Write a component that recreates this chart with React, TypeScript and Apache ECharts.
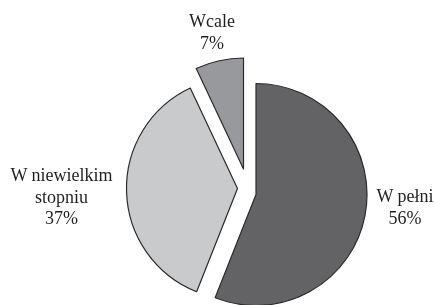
import React, { useEffect, useRef } from "react";
import * as echarts from "echarts";

const categories = ["W pełni", "W niewielkim\nstopniu", "Wcale"];
const values = [56, 37, 7];
const colors = ["#636365", "#c9cacc", "#98999d"];
// per-slice pie centre (explosion) and label anchor
const sliceCenters = [
  [256, 194.5],
  [237.5, 188.5],
  [243.5, 169],
];
const labelAnchors = [
  [405, 207],
  [61.5, 196.5],
  [212, 32],
];

const FONT = "Liberation Serif";

export default function App() {
  const ref = useRef<HTMLDivElement>(null);
  useEffect(() => {
    if (!ref.current) return;
    const chart = echarts.init(ref.current, null, { renderer: "svg" });
    const series = values.map((_, k) => ({
      type: "pie",
      radius: 111,
      center: sliceCenters[k],
      startAngle: 90,
      clockwise: true,
      labelLine: { show: false },
      label: {
        fontFamily: FONT,
        fontSize: 18,
        color: "#231f20",
        width: 140,
        overflow: "none",
        formatter: (p: any) =>
          p.dataIndex === k
            ? `${p.name}\n${Math.round(p.percent)}%`
                .split("\n")
                .map((s: string) => `{t|${s}}`)
                .join("\n")
            : "",
        rich: {
          t: {
            fontFamily: FONT,
            fontSize: 18,
            lineHeight: 21.5,
            color: "#231f20",
            align: "center",
          },
        },
      },
      labelLayout: () => ({
        x: labelAnchors[k][0],
        y: labelAnchors[k][1],
        align: "center",
        verticalAlign: "middle",
      }),
      data: values.map((v, i) => ({
        name: categories[i],
        value: v,
        itemStyle:
          i === k
            ? { color: colors[i], borderColor: "#2b2a2a", borderWidth: 1.2 }
            : { color: "transparent", borderWidth: 0 },
      })),
    }));
    chart.setOption({
      animation: false,
      series,
    } as any);
    return () => chart.dispose();
  }, []);
  return (
    <div
      ref={ref}
      style={{ position: "fixed", left: 0, top: 0, width: 435, height: 305 }}
    />
  );
}
